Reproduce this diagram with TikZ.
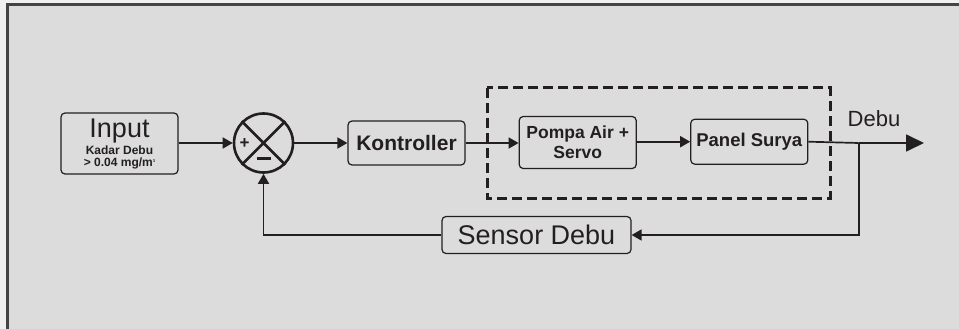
\documentclass[tikz,border=0pt]{standalone}
\usepackage{fontspec}
\setmainfont{Liberation Sans}
\usetikzlibrary{arrows.meta}
\definecolor{ink}{HTML}{231F20}
\definecolor{bg}{HTML}{DCDCDC}
\definecolor{frame}{HTML}{444444}
\begin{document}
\begin{tikzpicture}[x=1pt,y=-1pt,
  blk/.style={draw=ink, line width=1.2pt, rounded corners=4pt, inner sep=0pt, text=ink},
  conn/.style={draw=ink, line width=1.7pt, -{Triangle[length=10pt,width=11pt]}},
  plain/.style={draw=ink, line width=1.7pt}]
\useasboundingbox (0,0) rectangle (959,329);
\fill[white!94!black] (0,0) rectangle (959,329);
\fill[bg] (7.5,4.5) rectangle (965,340);
\draw[frame, line width=3pt] (7.5,340) -- (7.5,4.5) -- (965,4.5);
% blocks
\node[blk, minimum width=117pt, minimum height=61pt] (in) at (119.5,143.5) {};
\node[text=ink, font=\fontsize{27}{27}\selectfont, anchor=base] (intxt) at (119.5,137) {Input};
\node[text=ink, font=\bfseries\fontsize{12}{12}\selectfont] (kd) at (119.5,150.5) {Kadar Debu};
\node[text=ink, font=\bfseries\fontsize{12}{12}\selectfont] (mg) at (119.5,163) {> 0.04 mg/m\raisebox{3.5pt}{\fontsize{4}{4}\selectfont 3}};
\node[draw=ink, line width=2.6pt, circle, minimum size=59pt, inner sep=0pt] (sum) at (263.5,143) {};
\draw[ink, line width=2.6pt] (sum.north west) -- (sum.south east) (sum.north east) -- (sum.south west);
\node[text=ink, font=\bfseries\fontsize{17}{17}\selectfont] (plus) at (244.5,143.5) {+};
\fill[ink] (256.5,156.5) rectangle (270.5,160);
\node[blk, minimum width=117pt, minimum height=44pt, font=\bfseries\fontsize{21}{21}\selectfont] (ktl) at (406.5,143) {Kontroller};
\node[blk, minimum width=117pt, minimum height=52pt, font=\bfseries\fontsize{17.5}{20}\selectfont, align=center] (pompa) at (577.7,142.5) {Pompa Air +\\Servo};
\node[blk, minimum width=117pt, minimum height=45pt, font=\bfseries\fontsize{18.5}{18.5}\selectfont] (panel) at (749.3,141.7) {Panel Surya};
\node[blk, minimum width=189pt, minimum height=37pt, font=\fontsize{27}{27}\selectfont] (sensor) at (536.5,235) {Sensor Debu};
\draw[ink, line width=3pt, dash pattern=on 10pt off 5pt] (487,88) rectangle (830,198);
\node[text=ink, font=\fontsize{22}{22}\selectfont] (debu) at (874,119) {Debu};
\coordinate (br) at (858.7,143);
\coordinate (out) at (924,143);
\coordinate (fb) at (858.7,235);
\coordinate (fl) at (263.5,235);
% connectors
\draw[conn] (in.east |- sum) -- (sum.west);
\draw[conn] (sum.east) -- (ktl.west);
\draw[conn] (ktl.east) -- (ktl.east -| pompa.west);
\draw[conn] (pompa.east |- panel.west) -- (panel.west);
\draw[plain] (panel.east) -- (br);
\draw[draw=ink, line width=1.7pt, -{Triangle[length=18pt,width=17pt]}] (br) -- (out);
\draw[conn] (br) -- (fb) -- (sensor.east);
\draw[conn] (sensor.west) -- (fl) -- (sum.south);
\end{tikzpicture}
\end{document}
